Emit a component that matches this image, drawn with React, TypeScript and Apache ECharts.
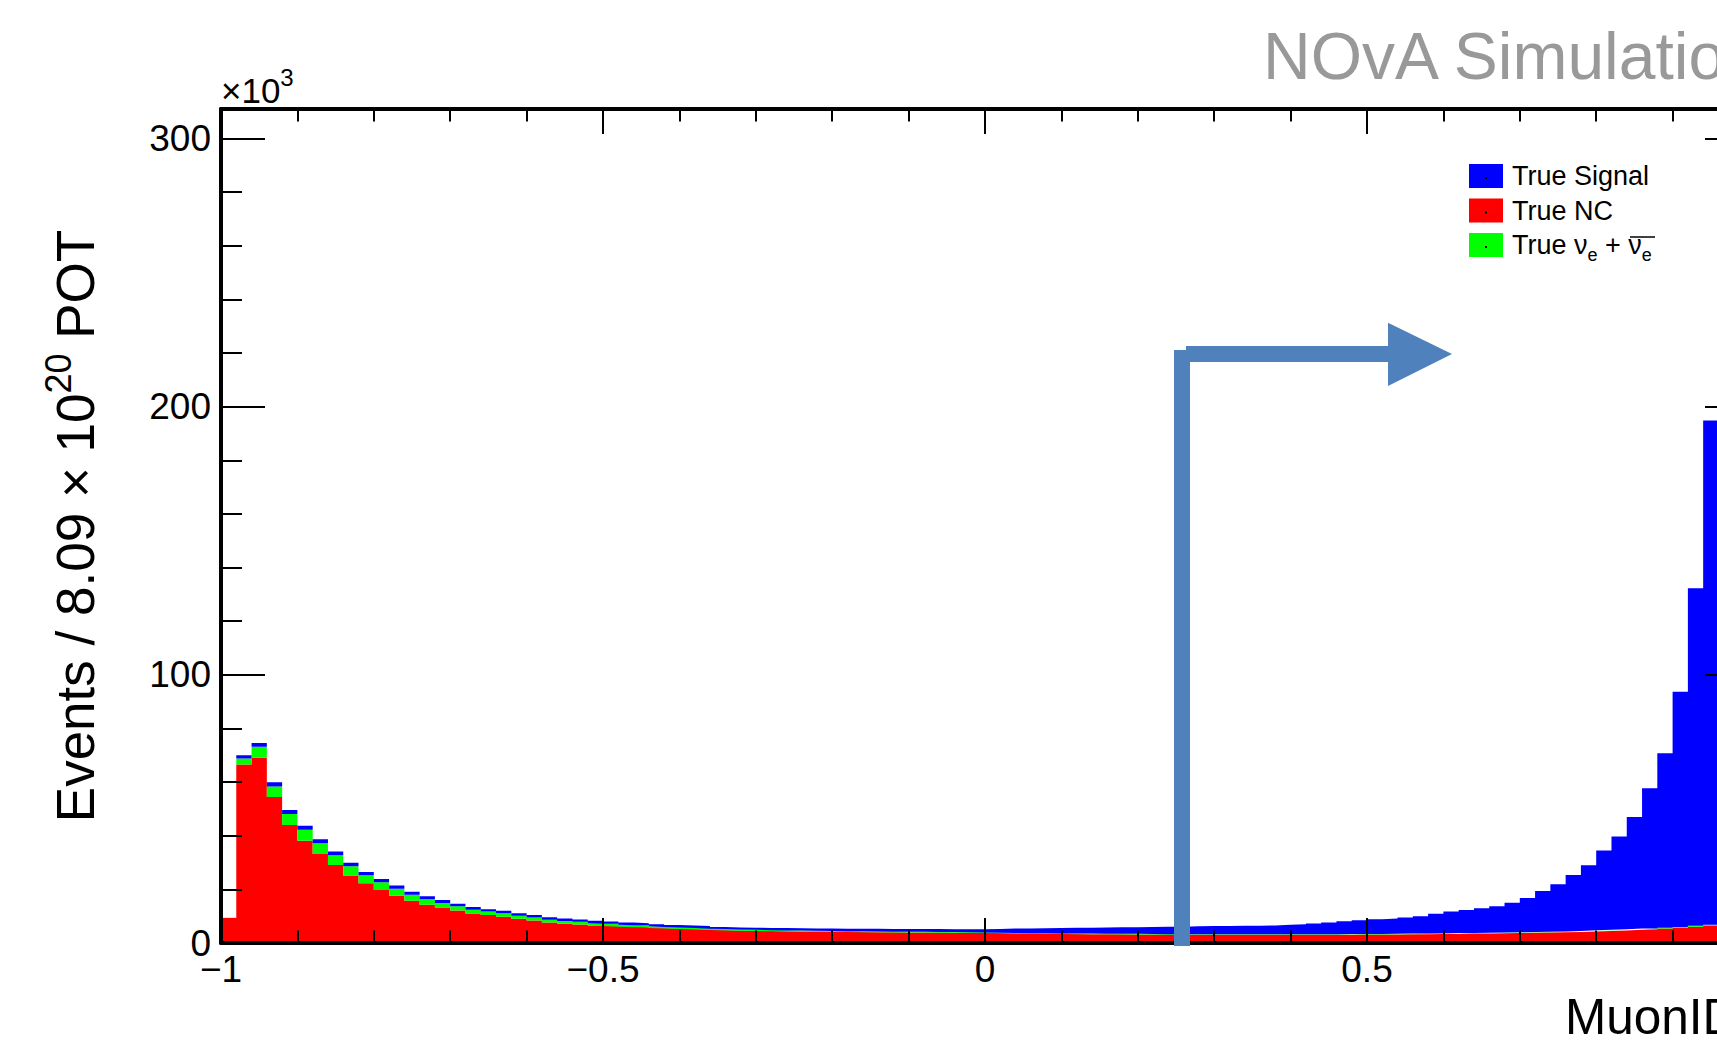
import React, { useEffect, useRef } from "react";
import * as echarts from "echarts";

// Histogram binning (MuonID score), 100 bins from -1 to 1
const X_MIN = -1;
const X_MAX = 1;
const BIN_WIDTH = 0.02;
const Y_MAX = 311; // in units of 10^3 events

const binEdges: string[] = Array.from({ length: 101 }, (_, i) => (X_MIN + i * BIN_WIDTH).toFixed(2));

// Values in 10^3 events per bin
const trueNC = [
  9.3, 66.6, 69.1, 54.4, 44.0, 38.1, 33.2, 29.1, 25.2, 22.3,
  19.8, 17.6, 15.8, 14.3, 13.2, 12.1, 11.0, 10.4, 9.8, 9.0,
  8.4, 7.6, 7.2, 6.9, 6.5, 6.3, 6.1, 5.9, 5.6, 5.4,
  5.25, 5.05, 4.85, 4.7, 4.55, 4.45, 4.35, 4.3, 4.25, 4.2,
  4.15, 4.1, 4.05, 4.0, 3.95, 3.9, 3.9, 3.85, 3.8, 3.8,
  3.7, 3.6, 3.5, 3.45, 3.4, 3.35, 3.3, 3.3, 3.25, 3.2,
  3.2, 3.15, 3.1, 3.1, 3.1, 3.1, 3.05, 3.05, 3.05, 3.05,
  3.05, 3.1, 3.1, 3.1, 3.15, 3.2, 3.2, 3.25, 3.3, 3.35,
  3.4, 3.5, 3.55, 3.6, 3.7, 3.8, 3.9, 4.0, 4.1, 4.3,
  4.5, 4.7, 4.9, 5.1, 5.4, 5.7, 6.1, 6.5, 7.0, 7.5,
];

const trueNue = [
  0.1, 2.2, 4.1, 4.0, 4.1, 4.1, 4.0, 3.6, 3.4, 3.0,
  2.9, 2.6, 2.2, 2.0, 1.7, 1.6, 1.4, 1.3, 1.3, 1.2,
  1.1, 1.1, 1.0, 1.0, 0.9, 0.85, 0.75, 0.75, 0.65, 0.6,
  0.55, 0.55, 0.5, 0.5, 0.45, 0.45, 0.4, 0.4, 0.38, 0.36,
  0.34, 0.32, 0.31, 0.3, 0.29, 0.28, 0.27, 0.26, 0.26, 0.25,
  0.25, 0.24, 0.24, 0.23, 0.23, 0.22, 0.22, 0.22, 0.21, 0.21,
  0.21, 0.2, 0.2, 0.2, 0.2, 0.2, 0.2, 0.2, 0.2, 0.2,
  0.2, 0.2, 0.2, 0.2, 0.2, 0.2, 0.2, 0.2, 0.2, 0.2,
  0.2, 0.2, 0.2, 0.2, 0.2, 0.2, 0.2, 0.2, 0.2, 0.2,
  0.25, 0.25, 0.25, 0.3, 0.3, 0.3, 0.35, 0.35, 0.4, 0.4,
];

const trueSignal = [
  0.05, 1.2, 1.4, 1.5, 1.5, 1.5, 1.5, 1.4, 1.3, 1.2,
  1.2, 1.2, 1.1, 1.1, 1.1, 0.9, 1.0, 0.9, 0.9, 0.9,
  0.9, 0.9, 0.9, 0.9, 0.9, 0.85, 0.75, 0.75, 0.75, 0.7,
  0.7, 0.7, 0.65, 0.6, 0.7, 0.7, 0.8, 0.8, 0.82, 0.84,
  0.86, 0.88, 0.94, 0.95, 0.96, 1.02, 1.03, 1.04, 1.09, 1.1,
  1.25, 1.56, 1.71, 1.82, 1.97, 2.08, 2.18, 2.28, 2.39, 2.49,
  2.59, 2.7, 2.8, 2.9, 3.0, 3.05, 3.15, 3.2, 3.3, 3.55,
  3.75, 4.0, 4.3, 4.8, 5.15, 5.5, 5.7, 6.05, 6.5, 7.35,
  8.1, 8.6, 9.25, 9.9, 11.1, 12.8, 15.3, 17.7, 21.1, 24.5,
  29.75, 34.75, 41.85, 52.3, 65.1, 87.7, 125.85, 187.95, 272.6, 288.1,
];

const NAME_SIGNAL = "True Signal";
const NAME_NC = "True NC";
const NAME_NUE = "True \u03bde + \u03bd\u0305e";

const FONT = '"Liberation Sans", Arial, Helvetica, sans-serif';
const ARROW_COLOR = "#4F81BD";

// histogram step: repeat last bin value at the upper edge
const closeStep = (v: number[]) => [...v, v[v.length - 1]];

export default function App() {
  const ref = useRef<HTMLDivElement>(null);

  useEffect(() => {
    const chart = echarts.init(ref.current!, null, { renderer: "svg" });
    const axisLineStyle = { color: "#000", width: 4 };
    const tickStyle = { color: "#000", width: 2 };
    const valueXAxisBase = {
      type: "value",
      min: X_MIN,
      max: X_MAX,
      interval: 0.5,
      z: 10,
      axisLine: { show: true, onZero: false, lineStyle: axisLineStyle },
      axisTick: { show: true, inside: true, length: 25, lineStyle: tickStyle },
      minorTick: { show: true, splitNumber: 5, length: 12.5, lineStyle: tickStyle },
      splitLine: { show: false },
      minorSplitLine: { show: false },
    };
    const valueYAxisBase = {
      type: "value",
      min: 0,
      max: Y_MAX,
      interval: 100,
      z: 10,
      axisLine: { show: true, onZero: false, lineStyle: axisLineStyle },
      axisTick: { show: true, inside: true, length: 44, lineStyle: tickStyle },
      minorTick: { show: true, splitNumber: 5, length: 21, lineStyle: tickStyle },
      splitLine: { show: false },
      minorSplitLine: { show: false },
    };
    const histSeries = (name: string, values: number[], color: string) => ({
      name,
      type: "line",
      xAxisIndex: 0,
      yAxisIndex: 0,
      stack: "mc",
      step: "end",
      data: closeStep(values),
      symbol: "none",
      showSymbol: false,
      lineStyle: { width: 0, color },
      itemStyle: { color },
      areaStyle: { color, opacity: 1 },
      z: 2,
    });

    chart.setOption({
      animation: false,
      backgroundColor: "#ffffff",
      textStyle: { fontFamily: FONT },
      grid: {
        left: 221,
        right: -32,
        top: 109,
        bottom: 102,
        containLabel: false,
        outerBoundsMode: "none",
      },
      xAxis: [
        { type: "category", data: binEdges, boundaryGap: false, show: false },
        {
          ...valueXAxisBase,
          position: "bottom",
          axisLabel: {
            show: true,
            color: "#000",
            fontSize: 37,
            fontFamily: FONT,
            margin: 8,
            showMaxLabel: false,
            formatter: (v: number) => (v === 0 ? "0" : String(v).replace("-", "\u2212")),
          },
        },
        { ...valueXAxisBase, position: "top", axisLabel: { show: false } },
      ],
      yAxis: [
        {
          ...valueYAxisBase,
          position: "left",
          axisLabel: {
            show: true,
            color: "#000",
            fontSize: 37,
            fontFamily: FONT,
            margin: 10,
            showMaxLabel: false,
            formatter: (v: number) => (v > 300 ? "" : String(v)),
          },
        },
        { ...valueYAxisBase, position: "right", axisLabel: { show: false } },
      ],
      legend: {
        orient: "vertical",
        left: 1469,
        top: 157,
        padding: 0,
        itemWidth: 34,
        itemHeight: 24,
        itemGap: -3.5,
        icon: "rect",
        itemStyle: { borderWidth: 0 },
        data: [NAME_SIGNAL, NAME_NC, NAME_NUE],
        selectedMode: false,
        formatter: (name: string) =>
          name === NAME_NUE ? "True \u03bd{sub|e} + \u03bd{sub|e}" : name,
        textStyle: {
          fontFamily: FONT,
          fontSize: 27,
          color: "#000",
          lineHeight: 38,
          padding: [0, 0, 0, 4],
          rich: {
            sub: { fontSize: 18, fontFamily: FONT, color: "#000", lineHeight: 18, verticalAlign: "bottom" },
          },
        },
      },
      series: [
        histSeries(NAME_NC, trueNC, "#ff0000"),
        histSeries(NAME_NUE, trueNue, "#00ff00"),
        histSeries(NAME_SIGNAL, trueSignal, "#0000ff"),
      ],
      graphic: [
        {
          type: "text",
          x: 1263,
          y: 56,
          z: 100,
          style: {
            text: "NOvA Simulation",
            fontSize: 66,
            fontFamily: FONT,
            fill: "#999999",
            align: "left",
            verticalAlign: "middle",
          },
        },
        {
          type: "text",
          x: 221,
          y: 90,
          z: 100,
          style: {
            text: "\u00d710{sup|3}",
            fontSize: 35,
            fontFamily: FONT,
            fill: "#000",
            lineHeight: 50,
            align: "left",
            verticalAlign: "middle",
            rich: { sup: { fontSize: 24, fontFamily: FONT, fill: "#000", verticalAlign: "top" } },
          },
        },
        {
          type: "text",
          x: 75,
          y: 526,
          rotation: Math.PI / 2,
          z: 100,
          style: {
            text: "Events / 8.09 \u00d7 10{sup|20} POT",
            fontSize: 53,
            fontFamily: FONT,
            fill: "#000",
            lineHeight: 70,
            align: "center",
            verticalAlign: "middle",
            rich: { sup: { fontSize: 36, fontFamily: FONT, fill: "#000", verticalAlign: "top" } },
          },
        },
        {
          type: "text",
          x: 1565,
          y: 1016,
          z: 100,
          style: {
            text: "MuonID",
            fontSize: 49.5,
            fontFamily: FONT,
            fill: "#000",
            align: "left",
            verticalAlign: "middle",
          },
        },
        // cut arrow
        { type: "rect", z: 100, shape: { x: 1174, y: 350, width: 16, height: 596 }, style: { fill: ARROW_COLOR } },
        { type: "rect", z: 100, shape: { x: 1186, y: 346, width: 203, height: 16 }, style: { fill: ARROW_COLOR } },
        {
          type: "polygon",
          z: 100,
          shape: { points: [[1388, 322.7], [1452, 354], [1388, 386]] },
          style: { fill: ARROW_COLOR },
        },
        // legend marker dots
        { type: "rect", z: 100, shape: { x: 1485, y: 177, width: 2, height: 2 }, style: { fill: "#000" } },
        { type: "rect", z: 100, shape: { x: 1485, y: 211.5, width: 2, height: 2 }, style: { fill: "#000" } },
        { type: "rect", z: 100, shape: { x: 1485, y: 246, width: 2, height: 2 }, style: { fill: "#000" } },
        // overline on anti-neutrino symbol
        {
          type: "line",
          z: 100,
          shape: { x1: 1630, y1: 237, x2: 1655, y2: 237 },
          style: { stroke: "#000", lineWidth: 1.5 },
        },
      ],
    });
    return () => chart.dispose();
  }, []);

  return <div ref={ref} style={{ position: "fixed", left: 0, top: 0, width: 1717, height: 1045 }} />;
}
